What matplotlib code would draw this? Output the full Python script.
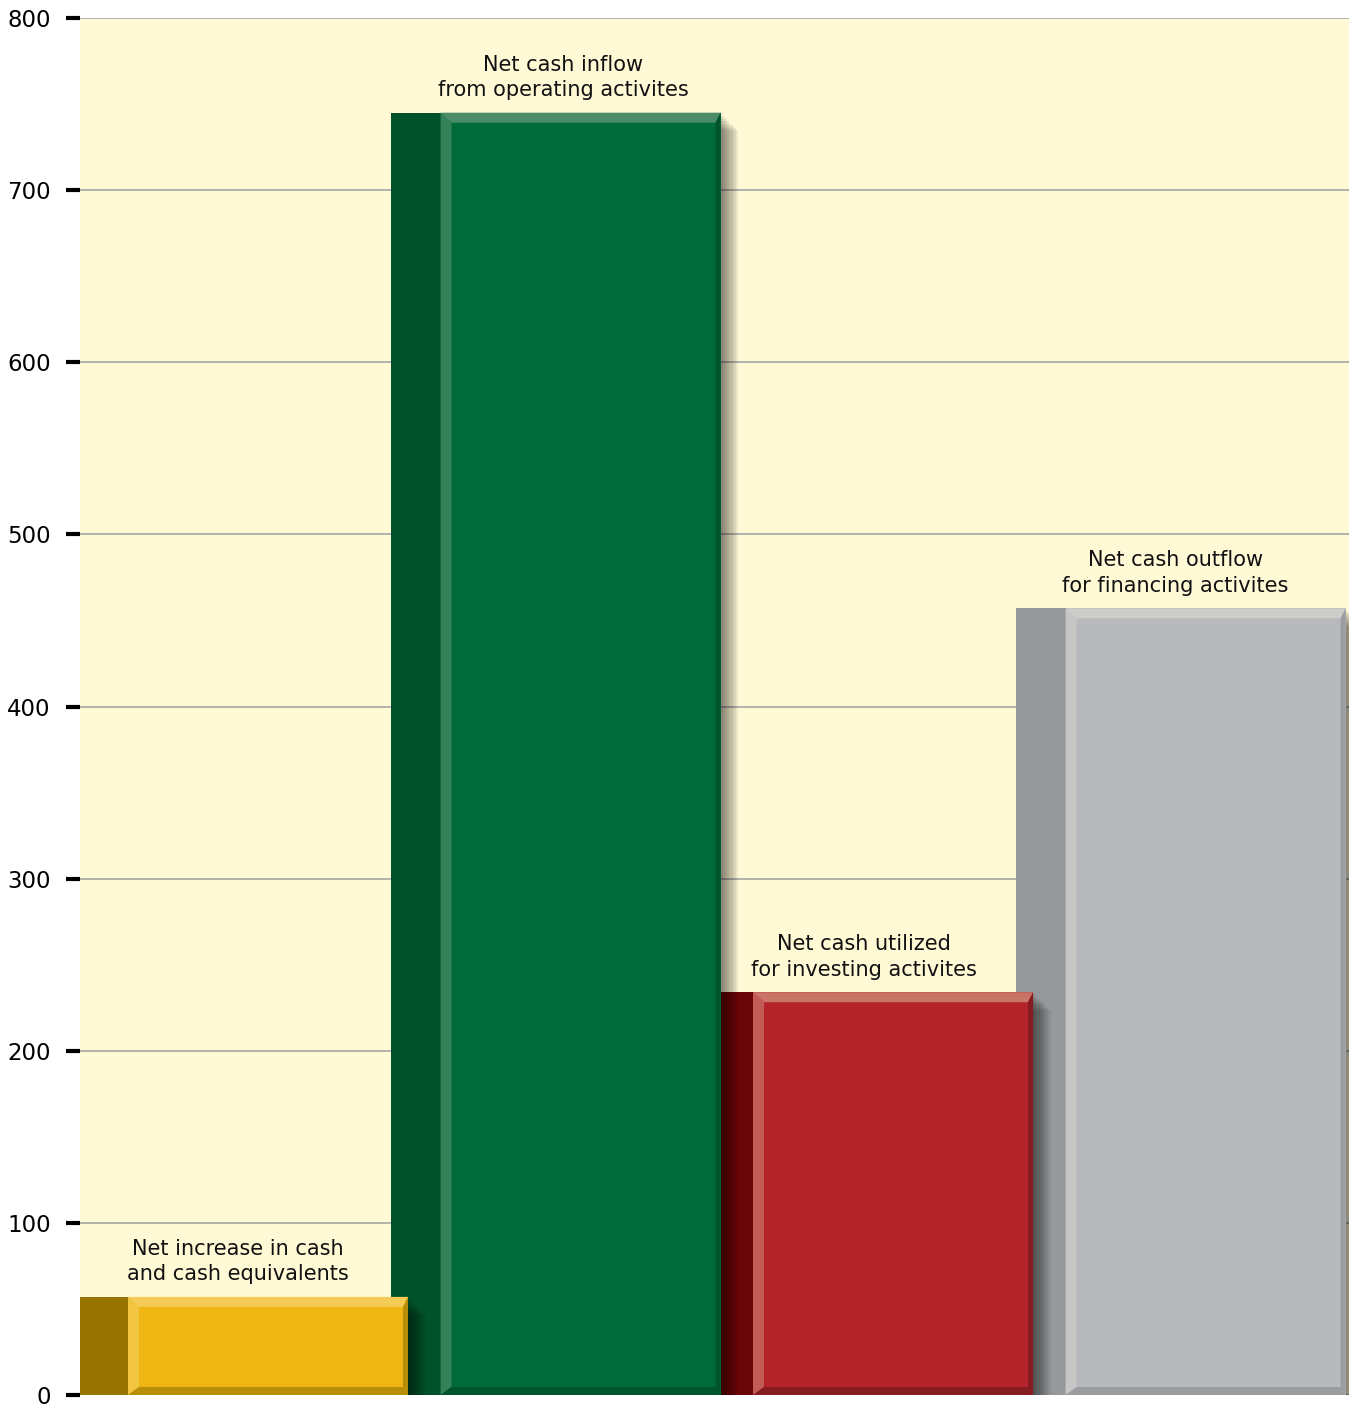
import numpy as np
import matplotlib
matplotlib.use("Agg")
import matplotlib.pyplot as plt
from matplotlib.patches import Rectangle, Polygon

# --- Data ---
labels = ["Net increase in cash\nand cash equivalents",
          "Net cash inflow\nfrom operating activites",
          "Net cash utilized\nfor investing activites",
          "Net cash outflow\nfor financing activites"]
values = [57, 745, 234, 457]
yticks = [0, 100, 200, 300, 400, 500, 600, 700, 800]

face_colors = ["#EEB513", "#006B3A", "#B5232A", "#B8B9BC"]
side_colors = ["#977300", "#00522A", "#6A0508", "#97989C"]
light_colors = ["#F4CC55", "#4C8C66", "#CA7468", "#CDCEC9"]
dark_colors = ["#B88D08", "#00552E", "#861B20", "#9C9DA0"]
label_nudge = [-5, 8, -4, -5]  # pixels

# --- Plot ---
fig = plt.figure(figsize=(13.49, 14.07), dpi=100)
ax = fig.add_axes([80 / 1349, 12 / 1407, 1269 / 1349, 1377 / 1407])
ax.set_facecolor("#FFF9D6")
ax.set_xlim(-0.6016, 3.459)
ax.set_ylim(0, 800)

# pixel sizes in data units
px = 1 / 312.5
py = 800 / 1377

bar_w = 280 * px
side_w = 50 * px
x = np.arange(len(values))

for i in reversed(range(len(values))):
    z = 10 + (len(values) - i) * 5
    h = values[i]
    x0 = x[i] - bar_w / 2
    x1 = x[i] + bar_w / 2
    # drop shadow
    for k in range(8):
        off = (k + 1) * 2.2
        ax.add_patch(Rectangle((x0 + off * px, -off * py), bar_w, h,
                               facecolor="black", alpha=0.07, lw=0, zorder=z))
    # side strip
    ax.add_patch(Rectangle((x0 - side_w, 0), side_w, h, facecolor=side_colors[i],
                           lw=0, zorder=z + 1))
    # main face
    ax.add_patch(Rectangle((x0, 0), bar_w, h, facecolor=face_colors[i],
                           lw=0, zorder=z + 1))
    # bevel
    l, t, r, b = 11 * px, 10 * py, 5 * px, 8 * py
    ax.add_patch(Polygon([(x0, h), (x1, h), (x1 - r, h - t), (x0 + l, h - t)],
                         facecolor=light_colors[i], lw=0, zorder=z + 2))
    ax.add_patch(Polygon([(x0, 0), (x0, h), (x0 + l, h - t), (x0 + l, b)],
                         facecolor=light_colors[i], alpha=0.7, lw=0, zorder=z + 2))
    ax.add_patch(Polygon([(x1, 0), (x1, h), (x1 - r, h - t), (x1 - r, b)],
                         facecolor=dark_colors[i], lw=0, zorder=z + 2))
    ax.add_patch(Polygon([(x0, 0), (x1, 0), (x1 - r, b), (x0 + l, b)],
                         facecolor=dark_colors[i], lw=0, zorder=z + 2))
    # label
    ax.annotate(labels[i], xy=(x[i] - side_w / 2 + label_nudge[i] * px, h),
                xytext=(0, 9), textcoords="offset points", ha="center", va="bottom",
                fontsize=15, linespacing=1.35, color="#111111", zorder=50)

ax.set_yticks(yticks)
ax.set_xticks([])
ax.grid(True, axis="y", color="#A5A5A5", lw=1.2, zorder=5)
for gl in ax.get_ygridlines():
    gl.set_zorder(5)
for s in ax.spines.values():
    s.set_visible(False)
ax.tick_params(axis="y", length=10, width=3, color="black", pad=11,
               labelsize=16.5, direction="out")
for t in ax.get_yticklabels():
    t.set_ha("right")

fig.savefig("out.png", dpi=100)
